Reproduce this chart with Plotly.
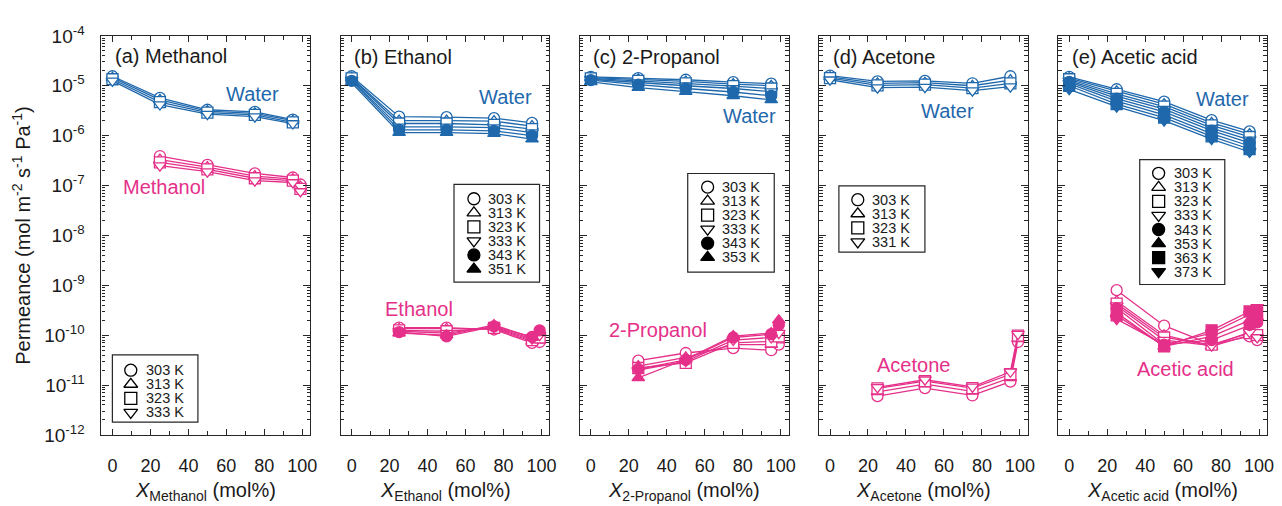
import plotly.graph_objects as go

# ---------------- data ----------------
x_water = [0, 25, 50, 75, 95]
x_org = [25, 50, 75, 95, 99]

temps_a = [303, 313, 323, 333]
water_a = [
    [1.55e-5, 5.7e-6, 3.3e-6, 3.0e-6, 2.1e-6],
    [1.45e-5, 5.2e-6, 3.1e-6, 2.8e-6, 2.0e-6],
    [1.35e-5, 4.7e-6, 2.9e-6, 2.6e-6, 1.85e-6],
    [1.25e-5, 4.2e-6, 2.7e-6, 2.4e-6, 1.75e-6],
]
org_a = [
    [3.9e-7, 2.6e-7, 1.75e-7, 1.45e-7, 1.05e-7],
    [3.3e-7, 2.35e-7, 1.55e-7, 1.35e-7, 9.5e-8],
    [2.9e-7, 2.1e-7, 1.4e-7, 1.25e-7, 8.6e-8],
    [2.5e-7, 1.9e-7, 1.25e-7, 1.15e-7, 7.6e-8],
]

temps_b = [303, 313, 323, 333, 343, 351]
water_b = [
    [1.55e-5, 2.4e-6, 2.35e-6, 2.25e-6, 1.8e-6],
    [1.45e-5, 2.0e-6, 2.0e-6, 1.95e-6, 1.55e-6],
    [1.4e-5, 1.75e-6, 1.75e-6, 1.65e-6, 1.35e-6],
    [1.3e-5, 1.5e-6, 1.5e-6, 1.45e-6, 1.15e-6],
    [1.25e-5, 1.3e-6, 1.3e-6, 1.25e-6, 1.0e-6],
    [1.15e-5, 1.15e-6, 1.15e-6, 1.1e-6, 8.5e-7],
]
org_b = [
    [1.42e-10, 1.42e-10, 1.3e-10, 7.0e-11, 7.3e-11],
    [1.35e-10, 1.35e-10, 1.35e-10, 7.5e-11, 8.0e-11],
    [1.25e-10, 1.2e-10, 1.4e-10, 8.0e-11, 9.0e-11],
    [1.2e-10, 1.1e-10, 1.45e-10, 8.5e-11, 1.0e-10],
    [1.15e-10, 9.5e-11, 1.5e-10, 9.3e-11, 1.25e-10],
    [1.1e-10, 1.0e-10, 1.6e-10, 9.0e-11, 1.15e-10],
]

temps_c = [303, 313, 323, 333, 343, 353]
water_c = [
    [1.5e-5, 1.42e-5, 1.32e-5, 1.18e-5, 1.1e-5],
    [1.45e-5, 1.35e-5, 1.22e-5, 1.08e-5, 1.0e-5],
    [1.4e-5, 1.25e-5, 1.12e-5, 9.8e-6, 8.8e-6],
    [1.35e-5, 1.15e-5, 1.0e-5, 8.8e-6, 7.6e-6],
    [1.3e-5, 1.05e-5, 8.8e-6, 7.5e-6, 6.3e-6],
    [1.2e-5, 9.2e-6, 7.6e-6, 6.3e-6, 5.2e-6],
]
org_c = [
    [3.1e-11, 4.4e-11, 5.5e-11, 5.0e-11, 6.5e-11],
    [2.4e-11, 3.6e-11, 6.5e-11, 6.5e-11, 8.0e-11],
    [2.2e-11, 2.8e-11, 7.0e-11, 7.5e-11, 9.5e-11],
    [2.0e-11, 3.0e-11, 8.0e-11, 9.0e-11, 1.1e-10],
    [2.1e-11, 3.2e-11, 9.0e-11, 1.05e-10, 1.6e-10],
    [1.4e-11, 3.3e-11, 9.6e-11, 1.1e-10, 2.0e-10],
]

temps_d = [303, 313, 323, 331]
water_d = [
    [1.6e-5, 1.22e-5, 1.25e-5, 1.12e-5, 1.55e-5],
    [1.5e-5, 1.12e-5, 1.15e-5, 1.0e-5, 1.3e-5],
    [1.42e-5, 1.02e-5, 1.05e-5, 9.0e-6, 1.12e-5],
    [1.32e-5, 9.2e-6, 9.4e-6, 8.0e-6, 9.6e-6],
]
org_d = [
    [6.0e-12, 8.7e-12, 6.2e-12, 1.17e-11, 7.3e-11],
    [7.3e-12, 1.05e-11, 7.5e-12, 1.4e-11, 8.5e-11],
    [8.6e-12, 1.2e-11, 8.7e-12, 1.65e-11, 9.8e-11],
    [9.0e-12, 1.28e-11, 9.2e-12, 1.85e-11, 1.05e-10],
]

temps_e = [303, 313, 323, 333, 343, 353, 363, 373]
water_e = [
    [1.5e-5, 8.5e-6, 4.8e-6, 2.05e-6, 1.22e-6],
    [1.42e-5, 7.7e-6, 4.3e-6, 1.8e-6, 1.07e-6],
    [1.35e-5, 6.9e-6, 3.8e-6, 1.6e-6, 9.4e-7],
    [1.27e-5, 6.2e-6, 3.4e-6, 1.42e-6, 8.2e-7],
    [1.2e-5, 5.5e-6, 3.0e-6, 1.26e-6, 7.2e-7],
    [1.1e-5, 4.9e-6, 2.6e-6, 1.1e-6, 6.2e-7],
    [1.0e-5, 4.3e-6, 2.3e-6, 9.7e-7, 5.4e-7],
    [8.5e-6, 3.8e-6, 2.0e-6, 8.5e-7, 4.7e-7],
]
org_e = [
    [8.0e-10, 1.55e-10, 6.5e-11, 9.5e-11, 8.0e-11],
    [4.8e-10, 1.0e-10, 6.0e-11, 1.0e-10, 9.0e-11],
    [4.3e-10, 9.0e-11, 6.5e-11, 1.1e-10, 1.0e-10],
    [3.9e-10, 8.0e-11, 6.2e-11, 1.15e-10, 9.0e-11],
    [3.5e-10, 6.5e-11, 8.0e-11, 1.6e-10, 1.8e-10],
    [2.8e-10, 6.0e-11, 9.5e-11, 2.0e-10, 2.3e-10],
    [2.5e-10, 6.0e-11, 1.25e-10, 3.0e-10, 2.8e-10],
    [2.1e-10, 6.5e-11, 1.1e-10, 2.6e-10, 3.6e-10],
]

panel_titles = ["(a) Methanol", "(b) Ethanol", "(c) 2-Propanol", "(d) Acetone", "(e) Acetic acid"]
solvents = ["Methanol", "Ethanol", "2-Propanol", "Acetone", "Acetic acid"]
x_subscripts = ["Methanol", "Ethanol", "2-Propanol", "Acetone", "Acetic acid"]
y_tick_exponents = [-4, -5, -6, -7, -8, -9, -10, -11, -12]
x_tick_values = [0, 20, 40, 60, 80, 100]

# ---------------- styling / layout ----------------
W, H = 1282, 506
FONT = "Liberation Sans, Arial, Helvetica, sans-serif"
BLUE = "#1F68AC"
PINK = "#E5308A"
AXC = "#262626"

PLOT_TOP, PLOT_BOT = 24, 443
LEFTS = [102, 342.5, 583, 823.5, 1064]
PW = 210
XR = [-5.8, 104.2]

SYMBOL = {303: "circle", 313: "triangle-up", 323: "square", 333: "triangle-down",
          331: "triangle-down", 343: "circle", 351: "triangle-up", 353: "triangle-up",
          363: "square", 373: "triangle-down"}

panels = [
    (temps_a, water_a, org_a),
    (temps_b, water_b, org_b),
    (temps_c, water_c, org_c),
    (temps_d, water_d, org_d),
    (temps_e, water_e, org_e),
]

# pixel annotation positions (layout only)
title_pos = [(115, 45), (355, 46.5), (595, 46.5), (836.5, 46.5), (1076.5, 46.5)]
water_lab = [(254, 85), (508, 88), (754, 108), (953, 103), (1229, 90)]
org_lab = [(165, 183), (421, 311), (662, 332.5), (919, 369), (1192, 374)]
legend_box = [(113, 359, 199, 429.5), (456.5, 180, 542.5, 282.5), (691.5, 168.5, 778.5, 272),
              (843.5, 181.5, 930, 251), (1146, 154, 1231.5, 285)]
legend_row0 = [375, 195, 182.7, 196, 168.3]
legend_mx = [131.5, 476.5, 711.5, 862.5, 1165]
legend_tx = [146, 489.5, 724.5, 876, 1179]
ROW = 14.75

fig = go.Figure()


def marker_style(T, color, size):
    filled = T >= 343
    return dict(symbol=SYMBOL[T], size=size,
                color=color if filled else "white",
                line=dict(color=color, width=1.3))


for i, (temps, water, org) in enumerate(panels):
    n = i + 1
    xa, ya = ("x" if n == 1 else f"x{n}"), ("y" if n == 1 else f"y{n}")
    for T, vals in zip(temps, water):
        fig.add_trace(go.Scatter(x=x_water, y=vals, mode="lines+markers", xaxis=xa, yaxis=ya,
                                 line=dict(color=BLUE, width=1.3),
                                 marker=marker_style(T, BLUE, 11), showlegend=False))
    for T, vals in zip(temps, org):
        fig.add_trace(go.Scatter(x=x_org, y=vals, mode="lines+markers", xaxis=xa, yaxis=ya,
                                 line=dict(color=PINK, width=1.3),
                                 marker=marker_style(T, PINK, 11), showlegend=False))
    # legend markers on the pixel overlay
    ys = [legend_row0[i] + k * ROW for k in range(len(temps))]
    for k, T in enumerate(temps):
        fig.add_trace(go.Scatter(x=[legend_mx[i]], y=[ys[k]], mode="markers", xaxis="x6", yaxis="y6",
                                 marker=marker_style(T, "black", 12), showlegend=False,
                                 hoverinfo="skip"))

layout = dict(
    width=W, height=H, margin=dict(l=0, r=0, t=0, b=0),
    paper_bgcolor="white", plot_bgcolor="rgba(0,0,0,0)",
    font=dict(family=FONT, color="#1a1a1a"),
    showlegend=False,
)

ydom = [(H - PLOT_BOT) / H, (H - PLOT_TOP) / H]
for i in range(5):
    n = i + 1
    xk = "xaxis" if n == 1 else f"xaxis{n}"
    yk = "yaxis" if n == 1 else f"yaxis{n}"
    layout[xk] = dict(
        domain=[LEFTS[i] / W, (LEFTS[i] + PW) / W], anchor="y" if n == 1 else f"y{n}",
        range=XR, tickmode="array", tickvals=x_tick_values,
        ticks="inside", ticklen=6, tickwidth=1, tickcolor=AXC,
        minor=dict(dtick=10, ticks="inside", ticklen=4, tickcolor=AXC, showgrid=False),
        showline=True, linecolor=AXC, linewidth=1.2, mirror="ticks",
        showgrid=False, zeroline=False,
        tickfont=dict(size=18, family=FONT, color="#1a1a1a"), ticklabelstandoff=14,
    )
    layout[yk] = dict(
        domain=ydom, anchor="x" if n == 1 else f"x{n}", type="log", range=[-12, -4],
        tickmode="array", tickvals=[10.0 ** e for e in y_tick_exponents],
        ticktext=[f"10<sup>{e}</sup>" for e in y_tick_exponents],
        showticklabels=(n == 1),
        ticks="inside", ticklen=7, tickwidth=1, tickcolor=AXC,
        minor=dict(dtick="D1", ticks="inside", ticklen=3.5, tickcolor=AXC, showgrid=False),
        showline=True, linecolor=AXC, linewidth=1.2, mirror="ticks",
        showgrid=False, zeroline=False,
        tickfont=dict(size=19, family=FONT, color="#1a1a1a"), ticklabelstandoff=12,
    )
layout["xaxis6"] = dict(domain=[0, 1], range=[0, W], visible=False, anchor="y6", fixedrange=True)
layout["yaxis6"] = dict(domain=[0, 1], range=[H, 0], visible=False, anchor="x6", fixedrange=True)

ann = []
shapes = []


def A(x, y, text, size, color="#1a1a1a", xanchor="center", yanchor="middle", angle=0):
    ann.append(dict(x=x, y=y, xref="x6", yref="y6", text=text, showarrow=False,
                    xanchor=xanchor, yanchor=yanchor, textangle=angle, borderpad=0,
                    font=dict(size=size, color=color, family=FONT)))


for i, (temps, _, _) in enumerate(panels):
    A(title_pos[i][0], title_pos[i][1], panel_titles[i], 20, xanchor="left")
    A(water_lab[i][0], water_lab[i][1], "Water", 20, color=BLUE)
    A(org_lab[i][0], org_lab[i][1], solvents[i], 20, color=PINK)
    A(LEFTS[i] + PW / 2, 502, f"<i>X</i><sub>{x_subscripts[i]}</sub> (mol%)", 20)
    x0, y0, x1, y1 = legend_box[i]
    shapes.append(dict(type="rect", xref="x6", yref="y6", x0=x0, y0=y0, x1=x1, y1=y1,
                       line=dict(color=AXC, width=1.2), fillcolor="rgba(0,0,0,0)"))
    for k, T in enumerate(temps):
        A(legend_tx[i], legend_row0[i] + k * ROW, f"{T} K", 14.5, xanchor="left")

A(22, 233, "Permeance (mol m<sup>-2</sup> s<sup>-1</sup> Pa<sup>-1</sup>)", 20, angle=-90)

layout["annotations"] = ann
layout["shapes"] = shapes
fig.update_layout(**layout)

fig.write_html("out.html")
